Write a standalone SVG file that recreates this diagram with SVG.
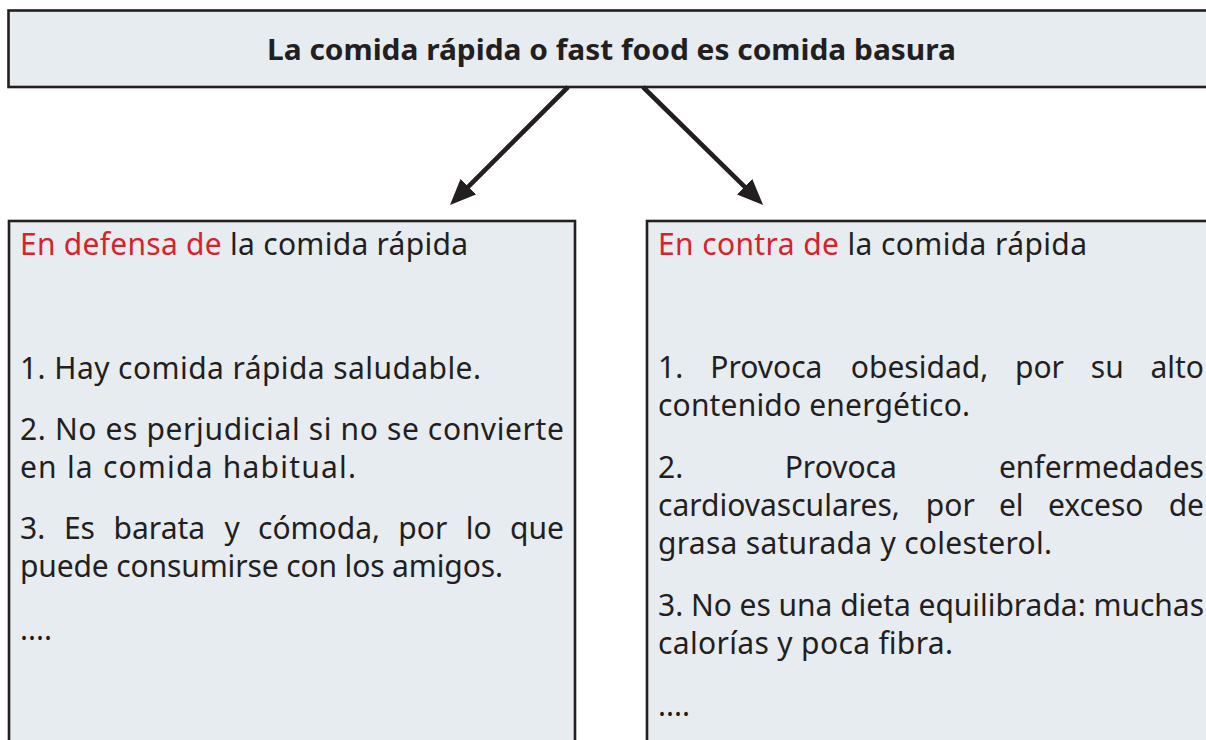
<svg xmlns="http://www.w3.org/2000/svg" width="1206" height="740" viewBox="0 0 1206 740">
  <style>
    .box { fill: #e7ecf0; stroke: #231f20; stroke-width: 2.6; }
    .t { font-family: "Noto Sans", "Open Sans", "DejaVu Sans", sans-serif; font-size: 30px; fill: #231f20; }
    .title { font-family: "Noto Sans", "Open Sans", "DejaVu Sans", sans-serif; font-size: 29px; font-weight: bold; fill: #231f20; }
    .red { fill: #d7222b; }
    .conn { stroke: #231f20; stroke-width: 4.6; fill: none; marker-end: url(#arrow); }
  </style>
  <defs>
    <marker id="arrow" viewBox="0 0 26 22" markerWidth="26" markerHeight="22" refX="11" refY="11" orient="auto" markerUnits="userSpaceOnUse">
      <path d="M0,0 L26,11 L0,22 Z" fill="#231f20"/>
    </marker>
  </defs>
  <rect width="1206" height="740" fill="#ffffff"/>

  <g id="node-top">
    <rect class="box" x="8.5" y="10.5" width="1210" height="76.5"/>
    <text class="title" x="267" y="60" textLength="689" lengthAdjust="spacingAndGlyphs">La comida rápida o fast food es comida basura</text>
  </g>

  <g id="connectors">
    <line class="conn" x1="568" y1="87" x2="460.6" y2="194.4"/>
    <line class="conn" x1="643" y1="87" x2="752.4" y2="194.4"/>
  </g>

  <g id="node-defensa">
    <rect class="box" x="9" y="221" width="566" height="600"/>
    <text class="t" x="20" y="255" textLength="448" lengthAdjust="spacing"><tspan class="red">En defensa de</tspan> la comida rápida</text>
    <text class="t" x="20" y="379" textLength="461" lengthAdjust="spacing">1. Hay comida rápida saludable.</text>
    <text class="t" x="20" y="440" textLength="544" lengthAdjust="spacing">2. No es perjudicial si no se convierte</text>
    <text class="t" x="20" y="478" textLength="336" lengthAdjust="spacing">en la comida habitual.</text>
    <text class="t" y="539"><tspan x="20">3.</tspan><tspan x="63.9">Es</tspan><tspan x="113.6">barata</tspan><tspan x="224.4">y</tspan><tspan x="258">cómoda,</tspan><tspan x="398.3">por</tspan><tspan x="465.8">lo</tspan></text>
    <text class="t" x="564" y="539" text-anchor="end">que</text>
    <text class="t" x="20" y="577" textLength="483" lengthAdjust="spacing">puede consumirse con los amigos.</text>
    <text class="t" x="20" y="640">....</text>
  </g>

  <g id="node-contra">
    <rect class="box" x="647" y="221" width="600" height="600"/>
    <text class="t" x="658" y="255" textLength="429" lengthAdjust="spacing"><tspan class="red">En contra de</tspan> la comida rápida</text>
    <text class="t" y="378"><tspan x="658">1.</tspan><tspan x="710.3">Provoca</tspan><tspan x="850.8">obesidad,</tspan><tspan x="1015">por</tspan><tspan x="1090.8">su</tspan></text>
    <text class="t" x="1204" y="378" text-anchor="end">alto</text>
    <text class="t" x="658" y="416" textLength="312" lengthAdjust="spacing">contenido energético.</text>
    <text class="t" y="478"><tspan x="658">2.</tspan><tspan x="784.7">Provoca</tspan></text>
    <text class="t" x="1204" y="478" text-anchor="end">enfermedades</text>
    <text class="t" y="516"><tspan x="658">cardiovasculares,</tspan><tspan x="925.8">por</tspan><tspan x="998.9">el</tspan><tspan x="1048">exceso</tspan></text>
    <text class="t" x="1204" y="516" text-anchor="end">de</text>
    <text class="t" x="658" y="554" textLength="394" lengthAdjust="spacing">grasa saturada y colesterol.</text>
    <text class="t" x="658" y="616" textLength="546" lengthAdjust="spacing">3. No es una dieta equilibrada: muchas</text>
    <text class="t" x="658" y="654" textLength="295" lengthAdjust="spacing">calorías y poca fibra.</text>
    <text class="t" x="658" y="716">....</text>
  </g>
</svg>
